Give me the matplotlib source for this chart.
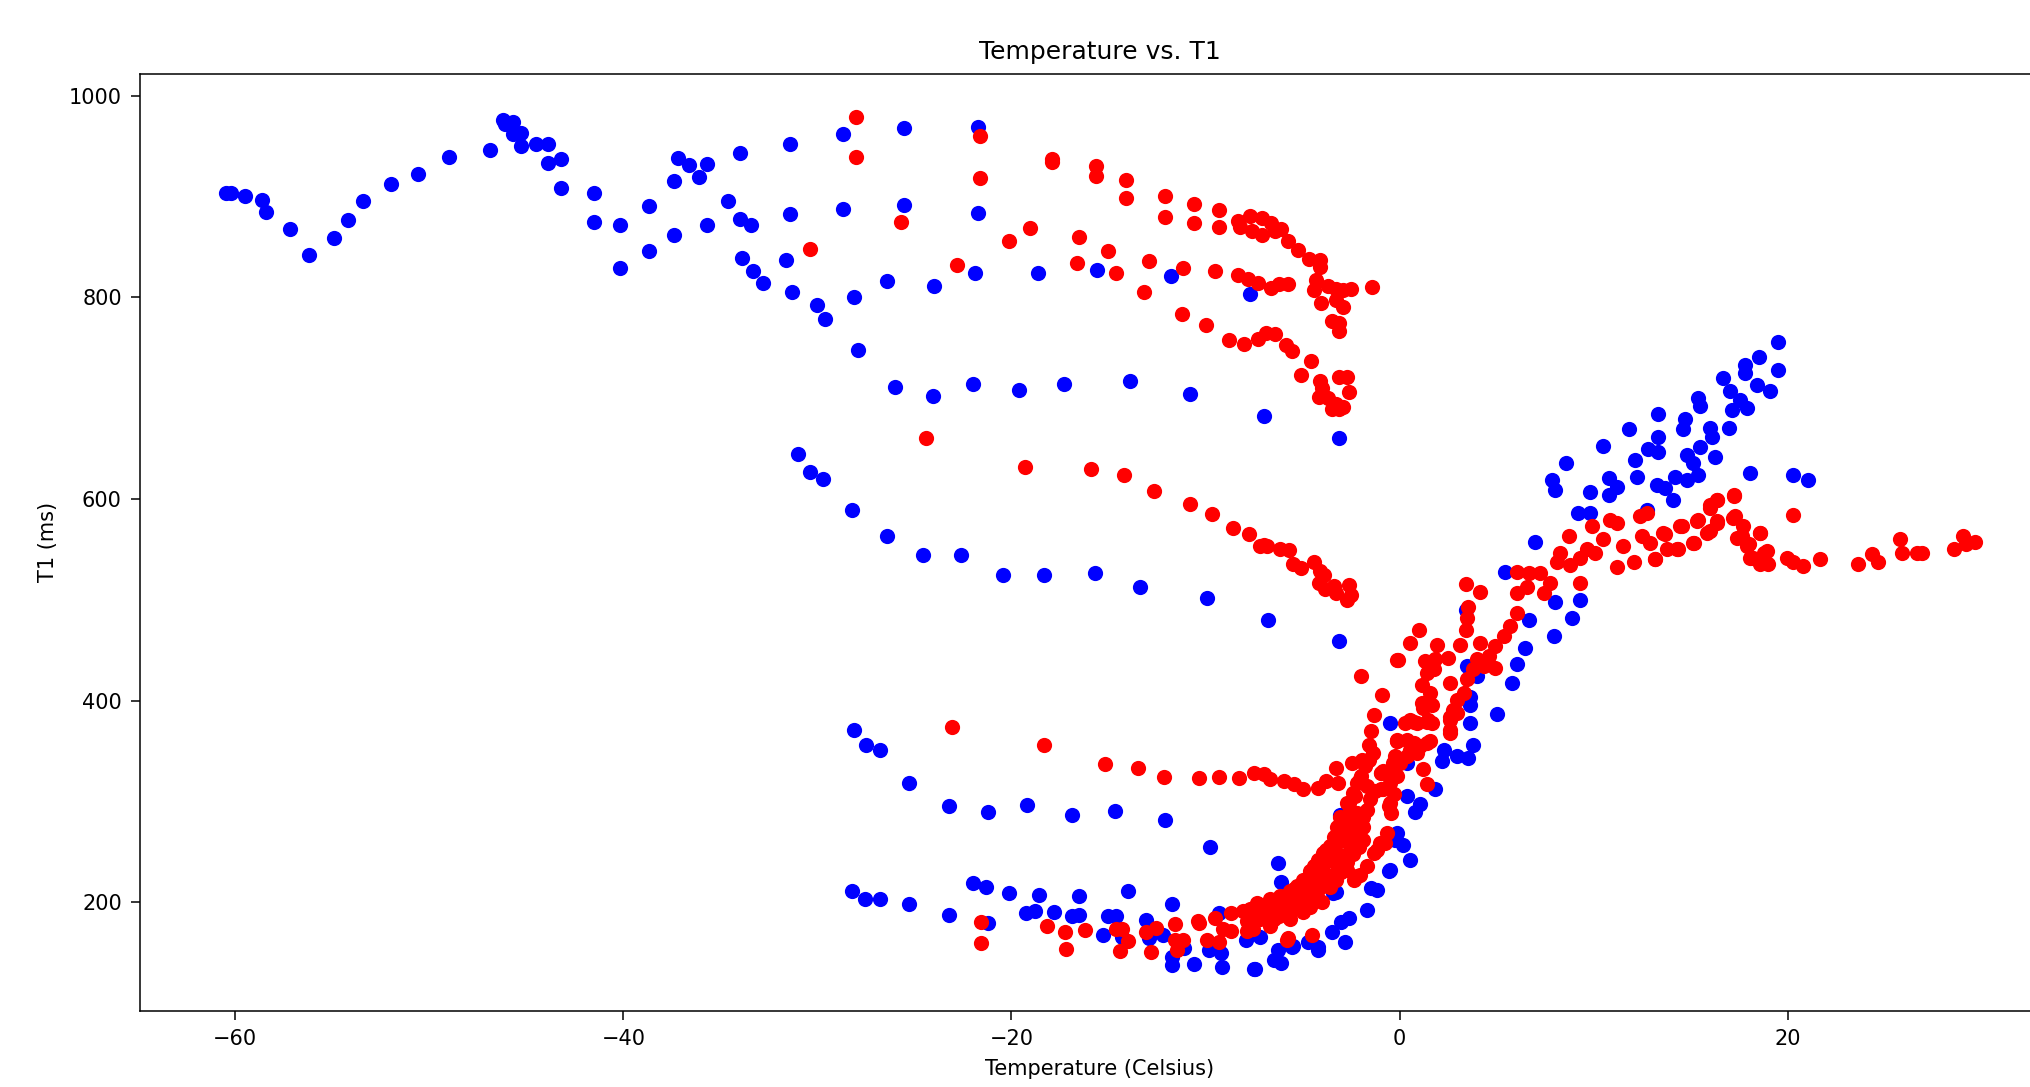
import matplotlib
matplotlib.use("Agg")
import matplotlib.pyplot as plt
import numpy as np

# ---------------- data (Temperature in Celsius, T1 in ms) ----------------
blue_top = [(-60.5, 904), (-60.2, 904), (-59.5, 901), (-58.6, 897), (-58.4, 885), (-57.2, 868),
            (-56.2, 842), (-54.9, 859), (-54.2, 877), (-53.4, 896), (-52.0, 912), (-50.6, 922),
            (-49.0, 939), (-46.9, 946), (-46.2, 976), (-46.1, 972), (-45.7, 974), (-45.7, 962),
            (-45.3, 963), (-45.3, 950), (-44.5, 952), (-43.9, 952), (-43.9, 933), (-43.2, 937),
            (-43.2, 909), (-41.5, 904), (-41.5, 875), (-40.2, 872), (-40.2, 829), (-38.7, 891),
            (-38.7, 846), (-37.4, 915), (-37.4, 862), (-37.2, 938), (-36.6, 931), (-36.1, 919),
            (-35.7, 932), (-35.7, 872), (-34.6, 896), (-34.0, 943), (-34.0, 878), (-33.4, 872),
            (-33.9, 839), (-33.3, 826), (-32.8, 814), (-31.4, 952), (-31.4, 883), (-31.6, 837),
            (-31.3, 805), (-30.0, 792), (-29.6, 779)]

blue_upper = [(-28.7, 962), (-25.55, 968), (-21.7, 969), (-28.7, 888), (-25.55, 892), (-21.7, 884),
              (-21.9, 824), (-18.65, 824), (-15.6, 827), (-11.8, 821), (-7.7, 803), (-26.4, 816),
              (-24.0, 811), (-28.1, 800), (-27.9, 748), (-26.0, 711), (-24.05, 702), (-22.0, 714),
              (-19.6, 708), (-17.3, 714), (-13.9, 717), (-10.8, 704), (-7.0, 682), (-3.1, 661)]

blue_middle = [(-31.0, 645), (-30.4, 627), (-29.7, 620), (-28.2, 589), (-26.4, 563), (-24.55, 544),
               (-22.6, 544), (-20.45, 525), (-18.3, 525), (-15.7, 527), (-13.4, 513), (-9.9, 502),
               (-6.8, 480), (-3.1, 459)]

blue_lower = [(-28.1, 371), (-27.5, 356), (-26.8, 351), (-25.3, 318), (-23.2, 295), (-21.2, 290),
              (-19.2, 296), (-16.9, 287), (-14.65, 291), (-12.1, 282), (-9.75, 255), (-6.24, 239),
              (-6.1, 220), (-3.3, 210), (-3.06, 287)]

blue_bottom = [(-28.2, 211), (-27.55, 203), (-26.8, 203), (-25.3, 198), (-23.2, 187), (-22.0, 219),
               (-21.3, 215), (-21.2, 179), (-20.15, 209), (-19.25, 189), (-18.8, 191), (-18.56, 207),
               (-17.8, 190), (-16.9, 186), (-16.5, 187), (-16.5, 206), (-15.3, 168), (-15.0, 186),
               (-14.6, 186), (-14.0, 211), (-14.3, 166), (-13.06, 182), (-12.9, 165), (-12.2, 168),
               (-11.75, 198), (-11.75, 146), (-11.75, 138), (-11.1, 155), (-10.6, 139), (-9.8, 153),
               (-9.3, 189), (-9.15, 136), (-9.2, 150), (-7.9, 163), (-7.5, 134), (-7.2, 166),
               (-6.45, 143), (-6.1, 140), (-6.24, 153), (-5.5, 157), (-4.7, 161), (-4.2, 153),
               (-3.5, 170), (-3.0, 180), (-2.8, 161), (-2.6, 184), (-1.66, 192), (-1.45, 214),
               (-1.15, 212), (-0.53, 231), (-0.22, 262), (-3.44, 209), (-7.44, 134), (-5.55, 156),
               (-4.18, 156)]

blue_rise = [(-0.14, 269), (0.2, 257), (0.55, 242), (-0.48, 232), (0.38, 305), (0.8, 290),
             (1.06, 297), (1.84, 312), (2.18, 340), (2.27, 351), (2.95, 345), (3.55, 343),
             (3.81, 356), (3.64, 378), (3.64, 396), (5.01, 387), (-0.48, 378), (0.38, 338),
             (6.99, 557), (5.44, 528), (3.43, 490), (3.47, 434), (3.98, 424), (3.64, 404),
             (5.79, 417), (6.05, 436), (6.48, 452), (6.65, 480), (7.94, 464), (8.02, 498),
             (8.88, 482), (9.31, 500), (7.85, 619), (8.02, 609), (8.59, 636), (9.22, 586),
             (9.82, 586), (9.82, 607), (10.51, 653), (10.77, 621), (10.77, 604), (11.2, 612),
             (11.8, 669), (12.15, 639), (12.23, 622), (12.75, 589), (12.83, 650)]

blue_top_right = [(19.49, 756), (18.5, 741), (19.49, 728), (17.81, 733), (17.81, 725), (16.66, 720),
                  (17.03, 707), (18.41, 713), (19.1, 707), (17.55, 698), (17.89, 690), (17.12, 688),
                  (17.0, 670), (15.4, 700), (15.49, 692), (14.71, 679), (14.63, 669), (13.34, 684),
                  (13.34, 662), (13.34, 647), (16.0, 670), (16.09, 662), (15.49, 652), (14.8, 644),
                  (15.14, 636), (16.26, 642), (14.2, 622), (14.8, 619), (15.4, 624), (13.25, 614),
                  (13.68, 611), (18.07, 626), (20.3, 624), (21.07, 619), (14.08, 599)]

red_top = [(-28.0, 979), (-28.0, 939), (-21.6, 960), (-21.6, 918), (-17.9, 937), (-17.9, 934),
           (-15.65, 930), (-15.65, 920), (-14.1, 916), (-14.1, 899), (-12.1, 901), (-12.1, 880),
           (-10.6, 893), (-10.6, 874), (-9.3, 887), (-9.3, 870), (-8.3, 876), (-8.2, 870),
           (-7.7, 881), (-7.6, 866), (-7.1, 879), (-7.1, 862), (-6.6, 874), (-6.4, 866),
           (-6.1, 868), (-5.75, 856), (-5.24, 847), (-4.66, 838), (-4.1, 837), (-4.1, 830),
           (-4.33, 817), (-4.4, 807), (-3.67, 811), (-3.3, 808), (-2.9, 807), (-2.5, 808),
           (-4.07, 794), (-3.3, 797), (-2.9, 790), (-3.5, 777), (-3.1, 767), (-3.1, 775),
           (-1.41, 810)]

red_second = [(-30.4, 848), (-25.7, 875), (-22.8, 832), (-20.15, 856), (-19.06, 869), (-16.5, 860),
              (-16.6, 834), (-15.0, 846), (-14.6, 824), (-12.9, 836), (-13.15, 805), (-11.15, 829),
              (-9.5, 826), (-8.3, 822), (-7.8, 818), (-7.3, 814), (-6.6, 809), (-6.2, 813),
              (-5.75, 813), (-11.2, 784), (-10.0, 773), (-8.8, 758), (-8.0, 754), (-7.3, 759),
              (-6.9, 765), (-6.4, 764), (-5.85, 753), (-5.55, 747), (-4.57, 737), (-5.06, 723),
              (-4.08, 717), (-3.98, 710), (-4.17, 701), (-3.68, 700), (-3.5, 689), (-3.1, 689),
              (-2.9, 691), (-3.1, 721), (-2.7, 721), (-2.6, 706), (-3.3, 694), (-24.4, 661)]

red_middle = [(-19.3, 632), (-15.9, 630), (-14.2, 624), (-12.65, 608), (-10.8, 595), (-9.65, 585),
              (-8.6, 571), (-7.74, 565), (-7.17, 553), (-6.82, 553), (-6.15, 550), (-5.68, 549),
              (-5.5, 536), (-5.07, 532), (-4.42, 538), (-4.11, 529), (-3.91, 525), (-4.17, 517),
              (-3.84, 511), (-3.39, 514), (-3.25, 507), (-2.58, 515), (-2.48, 505), (-2.69, 500),
              (-7.0, 554)]

red_lower = [(-23.06, 374), (-18.3, 356), (-15.16, 337), (-13.5, 333), (-12.16, 324), (-10.33, 323),
             (-9.31, 324), (-8.25, 323), (-7.5, 328), (-6.96, 327), (-6.66, 322), (-5.95, 320),
             (-5.44, 317), (-4.97, 312), (-4.21, 313), (-3.8, 320), (-3.29, 333), (-3.19, 318),
             (-2.47, 338), (-1.96, 341), (-1.65, 341), (-2.06, 322), (-1.35, 310), (-0.95, 328),
             (-0.44, 325), (-0.23, 345), (-0.13, 360), (-1.55, 356), (-1.49, 370), (-1.3, 386),
             (-0.9, 406), (-2.0, 424), (-0.14, 440)]

red_bottom = [(-21.57, 180), (-21.57, 160), (-18.15, 176), (-17.25, 170), (-17.2, 154), (-16.22, 172),
              (-14.6, 173), (-14.3, 173), (-14.0, 162), (-14.4, 152), (-12.83, 151), (-13.08, 170),
              (-12.56, 174), (-11.55, 178), (-11.55, 163), (-11.45, 153), (-11.14, 163), (-10.37, 181),
              (-9.93, 163), (-9.31, 161), (-9.1, 173), (-8.7, 171), (-7.88, 181), (-7.88, 171),
              (-7.27, 198), (-6.66, 201), (-6.45, 183), (-5.76, 165), (-4.52, 168), (-5.88, 206)]

red_band = [(-10.33, 179), (-9.51, 184), (-8.69, 189), (-8.08, 191), (-7.47, 193), (-6.86, 196),
            (-6.25, 199), (-5.84, 206), (-5.43, 213), (-5.03, 217), (-4.62, 226), (-4.42, 236),
            (-4.21, 242), (-3.8, 252), (-3.4, 265), (-3.19, 272), (-2.78, 279), (-2.58, 289),
            (-2.58, 298), (-2.38, 308), (-2.17, 318), (-1.97, 325), (-1.76, 335), (-1.56, 341),
            (-1.36, 348), (-1.15, 252), (-0.74, 259), (-0.95, 312), (-0.54, 295), (-0.44, 289),
            (-0.34, 338), (-0.95, 328), (-2.17, 226), (-2.29, 305), (-2.72, 298), (-3.06, 285),
            (-3.23, 275), (-3.58, 256), (-3.92, 249), (-4.26, 239), (-4.61, 231), (-4.95, 222),
            (-5.29, 216), (-5.64, 211), (-6.15, 206), (-6.67, 203), (-7.36, 199), (-7.7, 193),
            (-7.18, 183), (-6.67, 176), (-5.81, 163), (-5.64, 183), (-5.47, 196), (-4.69, 199),
            (-4.26, 206), (-3.92, 216), (-3.58, 226), (-3.23, 236), (-2.89, 246), (-2.54, 256),
            (-2.2, 265), (-1.86, 275), (-2.54, 275), (-2.89, 269), (-2.2, 289), (-1.69, 292),
            (-1.51, 302), (-1.26, 310), (-0.83, 312), (-0.48, 318), (-0.14, 325), (0.03, 338),
            (0.38, 345), (0.55, 351), (0.72, 358), (0.89, 348), (1.06, 355), (1.41, 358),
            (1.58, 360), (1.23, 332), (1.41, 317), (0.29, 378), (0.55, 381), (0.89, 378),
            (1.23, 393), (1.49, 381), (1.66, 396), (2.61, 371), (2.61, 381), (2.78, 391),
            (-0.14, 360), (-0.14, 343), (-0.31, 307), (-0.48, 298), (-0.66, 269), (-1.0, 259),
            (-1.34, 249), (-1.69, 236), (-2.03, 227), (-2.37, 222), (-2.72, 232), (-3.06, 246),
            (-3.4, 252), (-3.75, 242), (-4.09, 229), (-4.44, 219), (-4.78, 209), (-5.12, 203),
            (-5.98, 199), (-6.5, 193), (-7.01, 186), (-7.53, 183), (-7.53, 173), (-1.69, 315),
            (-6.8, 190), (-6.2, 186), (-5.6, 192), (-5.0, 190), (-4.6, 195), (-4.0, 200),
            (-5.3, 205), (-4.5, 212), (-3.6, 215), (-3.3, 222), (-3.0, 230), (-2.7, 240),
            (-2.4, 248), (-2.1, 255), (-1.9, 262), (-4.0, 235), (-3.7, 248), (-3.3, 258),
            (-2.9, 262), (-2.6, 268), (-2.3, 278), (-1.9, 285)]

red_rise = [(3.43, 516), (4.16, 508), (3.55, 493), (3.47, 482), (3.43, 470), (3.12, 455),
            (2.52, 442), (1.92, 455), (0.98, 470), (0.55, 457), (-0.06, 440), (-0.83, 330),
            (-0.14, 343), (0.38, 361), (-0.14, 361), (0.72, 379), (1.41, 379), (1.66, 378),
            (1.15, 398), (1.58, 408), (1.15, 416), (1.41, 427), (1.75, 431), (1.32, 439),
            (1.84, 441), (2.61, 417), (2.61, 384), (2.61, 368), (2.95, 388), (2.95, 401),
            (3.3, 408), (3.47, 421), (3.81, 431), (3.98, 441), (4.16, 457), (4.33, 434),
            (4.59, 444), (4.93, 432), (4.93, 454), (5.36, 464), (5.7, 474), (6.05, 487),
            (6.05, 507), (6.56, 513), (6.65, 527), (6.05, 528), (7.25, 527), (7.42, 507),
            (7.77, 517), (8.28, 546), (8.11, 538), (8.71, 563), (8.8, 535), (9.31, 517),
            (9.31, 541), (9.65, 550), (9.91, 573), (10.08, 546), (10.51, 560), (10.86, 579),
            (11.2, 576), (11.2, 533), (11.54, 553), (12.06, 538), (12.4, 583), (12.75, 586),
            (12.49, 563), (12.92, 556), (13.18, 540), (13.69, 565), (14.3, 550), (14.47, 573),
            (15.15, 556), (15.4, 579), (15.84, 566), (16.01, 591), (16.36, 599), (16.36, 576),
            (17.22, 603), (17.3, 583), (17.64, 563), (17.99, 555), (18.07, 541), (18.59, 566),
            (18.76, 546)]

red_tail = [(17.24, 604), (16.35, 599), (16.0, 594), (16.35, 578), (16.0, 568), (15.32, 578),
            (14.54, 573), (13.6, 566), (13.77, 550), (14.37, 550), (15.14, 556), (13.17, 540),
            (17.2, 581), (17.72, 573), (18.58, 566), (17.38, 561), (17.89, 553), (18.24, 541),
            (18.92, 548), (18.58, 536), (19.01, 536), (20.3, 584), (19.95, 541), (20.3, 538),
            (20.81, 534), (21.67, 540), (23.65, 536), (24.33, 545), (24.68, 538), (25.8, 560),
            (25.88, 546), (26.66, 546), (26.91, 546), (28.55, 550), (29.06, 563), (29.66, 557),
            (29.2, 555)]

blue_groups = [blue_top, blue_upper, blue_middle, blue_lower, blue_bottom, blue_rise, blue_top_right]
red_groups = [red_top, red_second, red_middle, red_lower, red_bottom, red_band, red_rise, red_tail]

title = "Temperature vs. T1"
xlabel = "Temperature (Celsius)"
ylabel = "T1 (ms)"

# ---------------- figure ----------------
fig = plt.figure(figsize=(20.3, 10.87), dpi=100)
ax = fig.add_axes([0.0689, 0.0699, 0.9459, 0.8622])

blue = np.array([p for g in blue_groups for p in g])
red = np.array([p for g in red_groups for p in g])

ax.scatter(blue[:, 0], blue[:, 1], s=120, color="blue", linewidths=0)
ax.scatter(red[:, 0], red[:, 1], s=120, color="red", linewidths=0)

ax.set_xlim(-64.92, 34.04)
ax.set_ylim(92.1, 1021.8)
ax.set_xticks([-60, -40, -20, 0, 20])
ax.set_yticks([200, 400, 600, 800, 1000])

ax.set_title(title, fontsize=18, pad=11)
ax.set_xlabel(xlabel, fontsize=15, labelpad=7)
ax.set_ylabel(ylabel, fontsize=15, labelpad=8)
ax.tick_params(labelsize=15, length=6.5, width=1.1, pad=6.5)
for sp in ax.spines.values():
    sp.set_linewidth(1.1)

fig.savefig("out.png", dpi=100)
